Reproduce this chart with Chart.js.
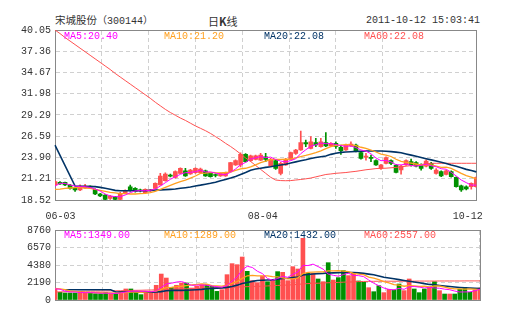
<!DOCTYPE html>
<html>
<head>
<meta charset="utf-8">
<script src="https://cdn.jsdelivr.net/npm/chart.js@4.4.1/dist/chart.umd.min.js"></script>
<style>
body { margin: 0; background: #fff; width: 505px; height: 330px; position: relative; overflow: hidden; }
canvas { position: absolute; left: 0; }
.t { position: absolute; font: 10px "Liberation Mono", "Noto Sans CJK SC", monospace; line-height: 12px; color: #333; white-space: pre; }
</style>
</head>
<body>
<div class="t" style="left:55px;top:15px"><span style="font-size:10.5px">宋城股份</span>（300144）</div>
<div class="t" style="left:208px;top:15px;font-size:11px;font-family:'Noto Sans CJK SC'">日<b>K</b>线</div>
<div class="t" style="right:25px;top:15px">2011-10-12 15:03:41</div>
<canvas id="kline" width="505" height="230" style="top:0"></canvas>
<canvas id="volume" width="505" height="95" style="top:220px"></canvas>
<script>
// trading days shown
var dates = ["06-03","06-07","06-08","06-09","06-10","06-13","06-14","06-15","06-16","06-17",
  "06-20","06-21","06-22","06-23","06-27","06-28","06-29","06-30","07-01","07-04",
  "07-05","07-06","07-07","07-08","07-11","07-12","07-13","07-14","07-15","07-18",
  "07-19","07-20","07-21","07-22","07-25","07-26","07-27","07-28","07-29","08-01",
  "08-02","08-03","08-04","08-05","08-08","08-09","08-10","08-11","08-12","08-15",
  "08-16","08-17","08-18","08-19","08-22","08-23","08-24","08-25","08-26","08-29",
  "08-30","08-31","09-01","09-02","09-05","09-06","09-07","09-08","09-09","09-13",
  "09-14","09-15","09-16","09-19","09-20","09-22","09-23","09-26","09-27","09-28",
  "09-29","09-30","10-10","10-11","10-12"];
var shownDates = [0, 42, 84];

var opens = [20.42,20.76,20.76,20.42,20.00,19.80,20.04,20.22,19.87,19.28,
  19.15,18.73,18.94,18.60,19.36,20.20,20.00,19.75,19.45,19.68,
  20.00,20.42,20.97,21.62,21.39,21.90,22.23,21.81,21.98,21.98,
  22.23,21.90,21.70,21.56,21.56,22.11,22.95,22.95,24.30,23.50,
  23.67,23.58,24.00,22.82,23.50,21.90,22.95,23.67,24.43,24.85,
  25.78,25.06,25.78,25.27,25.78,25.36,25.70,25.19,24.85,25.36,
  25.48,24.51,23.95,23.90,23.50,22.53,23.16,23.50,22.95,22.32,
  22.95,23.37,23.25,22.95,22.82,23.16,21.90,22.11,21.77,22.11,
  21.39,20.33,20.20,20.20,20.20];
var closes = [20.84,20.55,20.42,20.00,19.80,20.29,20.29,20.15,19.28,19.03,
  18.60,19.03,18.60,19.36,19.70,19.70,19.57,19.68,19.87,19.75,
  20.63,21.56,21.81,21.55,22.11,22.53,21.56,22.32,22.53,22.45,
  21.56,21.47,21.62,21.90,21.98,23.25,23.50,24.30,23.37,24.10,
  24.10,24.22,23.67,23.67,22.53,23.16,23.67,24.51,24.85,25.78,
  25.61,25.90,25.48,25.90,25.36,25.70,25.30,24.77,25.48,25.61,
  24.64,23.80,24.00,23.80,22.95,22.95,23.88,23.16,22.02,22.82,
  23.50,22.95,22.82,22.53,23.46,22.53,22.32,21.56,22.23,21.47,
  20.20,19.79,19.91,20.63,21.35];
var highs = [20.95,20.85,20.80,20.50,20.10,20.45,20.50,20.30,19.95,19.35,
  19.20,19.10,19.00,19.50,19.80,20.40,20.10,19.90,19.95,19.85,
  20.70,21.90,21.95,21.80,22.20,22.60,22.53,22.40,22.60,22.55,
  22.30,21.95,21.85,21.95,22.05,23.30,23.60,24.50,24.40,24.20,
  24.20,24.43,24.43,23.80,23.60,23.30,23.80,24.60,24.95,27.26,
  26.10,26.54,26.33,26.33,27.05,25.80,25.90,25.48,25.60,25.90,
  25.60,24.60,24.43,24.22,23.60,23.05,24.00,23.60,23.05,22.90,
  23.60,23.70,23.40,23.10,23.60,23.30,22.50,22.20,22.30,22.20,
  21.47,20.40,20.30,20.70,21.45];
var lows = [20.35,20.50,20.35,19.90,19.60,19.70,20.00,20.05,19.20,18.95,
  18.52,18.60,18.52,18.52,19.30,19.65,19.50,19.55,19.40,19.60,
  19.95,20.40,20.90,21.45,21.30,21.85,21.50,21.75,21.90,21.90,
  21.50,21.40,21.45,21.50,21.50,22.05,22.90,22.70,23.30,23.40,
  23.60,23.50,23.37,22.75,22.40,21.70,22.90,23.60,24.30,24.80,
  25.27,25.00,25.27,25.20,25.27,25.30,25.06,24.30,24.80,25.30,
  24.60,23.70,23.58,23.37,22.90,22.40,23.10,23.00,21.95,21.80,
  22.90,22.82,22.70,22.30,22.70,22.40,21.80,21.47,21.70,21.40,
  20.15,19.60,19.80,19.90,20.10];
var volumes = [1380,960,880,880,880,1080,880,880,790,790,
  960,790,790,1080,1380,1380,960,670,1080,1080,
  1840,3250,2750,1590,1840,2130,2130,1500,1710,1920,
  1920,1710,1080,1290,3170,4550,4420,5380,3590,2420,
  2170,3000,2290,2500,3550,3460,2420,4170,3880,7720,
  3340,3340,2630,2290,4670,2500,2800,3670,3050,3340,
  2380,2210,1540,1040,1790,920,1335,1250,2000,1170,
  2630,1380,920,1380,1585,2290,1170,750,750,750,
  1350,1585,960,1250,1500];

// moving averages as drawn on the chart
var ma5 = [20.29,20.63,20.63,20.42,20.29,20.21,20.21,20.12,19.91,19.66,
  19.28,19.03,18.94,18.94,19.15,19.45,19.66,19.70,19.70,19.74,
  19.91,20.29,20.71,21.14,21.47,21.77,21.98,22.02,22.11,22.28,
  22.08,22.07,21.93,21.80,21.71,22.04,22.45,22.99,23.28,23.70,
  23.87,24.02,23.89,23.95,23.64,23.45,23.34,23.51,23.74,24.39,
  24.88,25.33,25.52,25.73,25.65,25.67,25.55,25.41,25.32,25.37,
  25.16,24.86,24.71,24.37,23.84,23.50,23.52,23.35,22.99,22.97,
  23.08,22.89,22.82,22.92,23.05,22.86,22.73,22.48,22.42,22.02,
  21.56,21.05,20.72,20.40,20.40];
var ma10 = [19.87,19.91,20.00,20.04,20.08,20.08,20.04,20.00,19.87,19.74,
  19.62,19.49,19.41,19.32,19.32,19.28,19.28,19.32,19.36,19.45,
  19.62,19.87,20.12,20.38,20.63,20.84,21.05,21.30,21.56,21.88,
  21.93,22.03,21.98,21.96,22.00,22.06,22.26,22.46,22.54,22.71,
  22.96,23.24,23.44,23.62,23.67,23.66,23.68,23.70,23.85,24.02,
  24.17,24.34,24.52,24.74,25.02,25.28,25.44,25.47,25.53,25.51,
  25.42,25.20,25.06,24.85,24.60,24.33,24.19,24.03,23.68,23.40,
  23.29,23.20,23.08,22.95,23.01,22.97,22.81,22.65,22.67,22.53,
  22.21,21.89,21.60,21.41,21.20];
var ma20 = [25.48,null,null,null,20.29,20.25,20.25,20.21,20.21,20.12,
  20.00,19.87,19.74,19.70,19.70,19.70,19.70,19.70,19.70,19.74,
  19.79,19.79,19.83,19.87,19.91,20.00,20.08,20.17,20.30,20.40,
  20.52,20.63,20.78,20.95,21.12,21.30,21.50,21.75,22.00,22.30,
  22.45,22.55,22.65,22.74,22.85,22.95,23.05,23.20,23.35,23.50,
  23.62,23.78,23.90,24.00,24.10,24.30,24.45,24.55,24.60,24.64,
  24.68,24.70,24.72,24.72,24.72,24.72,24.70,24.65,24.58,24.50,
  24.35,24.20,24.05,23.90,23.75,23.60,23.45,23.30,23.15,22.95,
  22.80,22.60,22.40,22.25,22.08];
var ma60 = [40.05,39.60,39.10,38.65,38.20,37.75,37.30,36.85,36.40,35.95,
  35.50,35.05,34.55,34.10,33.65,33.20,32.75,32.30,31.85,31.40,
  30.90,30.45,30.00,29.60,29.25,28.90,28.60,28.25,27.90,27.60,
  27.30,26.95,26.55,26.15,25.70,25.30,24.85,24.35,23.85,23.40,
  22.90,22.40,21.90,21.40,21.05,20.98,20.96,20.98,21.05,21.12,
  21.20,21.30,21.45,21.60,21.75,21.82,21.90,21.95,22.00,22.08,
  22.15,22.25,22.35,22.42,22.50,22.53,22.55,22.60,22.65,22.72,
  22.80,22.88,22.95,23.02,23.10,23.17,23.17,23.17,23.17,23.17,
  23.17,23.17,23.17,23.17,23.17];
var vma5 = [1400,1350,1100,1000,1000,940,920,920,900,850,
  860,840,820,880,1000,1090,1120,1090,1090,1030,
  1130,1580,2000,2100,2250,2310,2100,1840,1860,1880,
  1840,1750,1670,1600,1830,2360,2900,3760,4220,4070,
  3600,3300,2690,2480,2700,2960,2840,3220,3500,4330,
  4310,4490,4180,3860,3250,3090,2980,3190,3340,3070,
  3050,2930,2500,2100,1790,1500,1330,1270,1460,1330,
  1670,1680,1620,1500,1580,1510,1470,1360,1290,1120,
  1000,1010,1020,1150,1349];
var vma10 = [1450,1400,1300,1150,1080,1000,960,930,920,920,
  900,880,870,890,930,980,990,970,990,1040,
  1120,1340,1540,1590,1670,1720,1800,1880,1940,2020,
  1970,1800,1760,1730,1860,2080,2310,2700,3030,3080,
  3010,3030,3020,2930,2890,2780,2640,2640,2770,3310,
  3450,3490,3530,3520,3640,3640,3670,3620,3540,3340,
  3240,3170,2870,2750,2550,2300,2150,1930,1850,1720,
  1790,1750,1690,1730,1630,1760,1750,1620,1470,1400,
  1390,1370,1380,1360,1289];
var vma20 = [null,null,1290,1290,1290,1290,1290,1290,1290,1290,
  1290,1290,1000,1000,1000,1000,1000,990,990,990,
  1000,1050,1150,1200,1200,1200,1220,1250,1290,1330,
  1400,1450,1480,1500,1580,1700,1860,2070,2200,2330,
  2450,2480,2500,2520,2600,2700,2720,2800,2880,3140,
  3200,3250,3300,3330,3380,3400,3420,3440,3450,3440,
  3400,3330,3240,3150,3000,2850,2750,2650,2550,2450,
  2350,2250,2150,2050,1950,1900,1820,1750,1680,1620,
  1570,1530,1500,1460,1432];
var vma60 = [1000,1020,1030,1050,1060,1080,1090,1100,1110,1120,
  1130,1140,1150,1160,1180,1200,1210,1220,1240,1250,
  1270,1300,1330,1350,1370,1390,1410,1420,1440,1460,
  1480,1500,1510,1520,1550,1580,1610,1650,1670,1690,
  1710,1730,1760,1790,1820,1850,1870,1910,1950,2020,
  2050,2080,2100,2120,2160,2180,2200,2230,2260,2280,
  2300,2320,2330,2340,2350,2350,2350,2350,2350,2360,
  2360,2360,2370,2370,2370,2370,2380,2380,2380,2380,
  2380,2390,2390,2390,2390];

var priceTicks = [18.52, 21.21, 23.90, 26.59, 29.29, 31.98, 34.67, 37.36, 40.05];
var volTicks = [0, 2190, 4380, 6570, 8760];
var maNames = ["MA5", "MA10", "MA20", "MA60"];
var priceLegend = ["20.40", "21.20", "22.08", "22.08"];
var volLegend = ["1349.00", "1289.00", "1432.00", "2557.00"];

var RED = "#ff5050", GREEN = "#009100", FRAME = "#888", GRID = "#d0d0d0";
var maColors = ["#ff00ff", "#ffa020", "#003366", "#ff5050"];
var maWidths = [1, 1.3, 1.6, 1];

// legend texts inside the two panels
maNames.forEach(function (n, k) {
    [[31, priceLegend], [230, volLegend]].forEach(function (row) {
        var d = document.createElement("div");
        d.className = "t";
        d.style.left = (64 + 100 * k) + "px";
        d.style.top = row[0] + "px";
        d.style.color = maColors[k];
        d.textContent = n + ":" + row[1][k];
        document.body.appendChild(d);
    });
});

Chart.defaults.font.family = "'Liberation Mono', monospace";
Chart.defaults.font.size = 10;
Chart.defaults.color = "#333";

var candleColors = closes.map(function (c, i) { return c >= opens[i] ? RED : GREEN; });

function edgeless(n) {
    // hide grid lines that sit on the frame
    return function (ctx) { return (ctx.index === 0 || ctx.index === n - 1) ? "rgba(0,0,0,0)" : GRID; };
}

function maLine(data, k) {
    return {
        type: "line", label: maNames[k], data: data, xAxisID: "xl",
        borderColor: maColors[k], borderWidth: maWidths[k],
        pointRadius: 0, tension: 0, spanGaps: true, order: 0
    };
}

function frameScales(yMin, yMax, ticks, fmt) {
    return {
        xl: { type: "category", offset: false, display: false },
        xg: {
            type: "linear", position: "top", min: 0, max: 8,
            ticks: { display: false, stepSize: 1 },
            grid: { color: edgeless(9), drawTicks: false },
            border: { color: FRAME, dash: [4, 3] },
            afterFit: function (a) { a.height = 0; }
        },
        y: {
            type: "linear", position: "left", min: yMin, max: yMax,
            afterBuildTicks: function (a) { a.ticks = ticks.map(function (v) { return { value: v }; }); },
            ticks: { padding: 4, callback: fmt },
            grid: { color: edgeless(ticks.length), drawTicks: false },
            border: { color: FRAME, dash: [4, 3] },
            afterFit: function (a) { a.width = 55; }
        },
        yr: {
            type: "linear", position: "right", min: yMin, max: yMax,
            ticks: { display: false }, grid: { display: false },
            border: { color: FRAME },
            afterFit: function (a) { a.width = 25; }
        }
    };
}

var kScales = frameScales(18.52, 40.05, priceTicks, function (v) { return v.toFixed(2); });
kScales.x = {
    type: "category", offset: true,
    grid: { display: false, drawTicks: false },
    border: { color: FRAME },
    ticks: {
        autoSkip: false, maxRotation: 0, padding: 10,
        callback: function (v, i) {
            var at = shownDates.indexOf(i);
            if (at < 0) return "";
            // nudge first/last labels inside the frame like the original
            return [" " + dates[i], dates[i] + " ", dates[i] + "  "][at];
        }
    },
    afterFit: function (a) { a.height = 30; }
};

new Chart(document.getElementById("kline"), {
    type: "bar",
    data: {
        labels: dates,
        datasets: [
            maLine(ma5, 0), maLine(ma10, 1), maLine(ma20, 2), maLine(ma60, 3),
            {
                label: "body", data: opens.map(function (o, i) { return [o, closes[i]]; }),
                backgroundColor: candleColors, barThickness: 4, minBarLength: 1,
                grouped: false, order: 1
            },
            {
                label: "wick", data: lows.map(function (l, i) { return [l, highs[i]]; }),
                backgroundColor: candleColors, barThickness: 1,
                grouped: false, order: 2
            }
        ]
    },
    options: {
        responsive: false, animation: false, events: [],
        layout: { padding: { top: 30, left: 0, right: 0, bottom: 0 } },
        plugins: { legend: { display: false }, tooltip: { enabled: false } },
        scales: kScales
    }
});

var vScales = frameScales(0, 8760, volTicks, function (v) { return String(v); });
vScales.x = {
    type: "category", offset: true,
    grid: { display: false, drawTicks: false },
    border: { color: FRAME },
    ticks: { display: false },
    afterFit: function (a) { a.height = 0; }
};

new Chart(document.getElementById("volume"), {
    type: "bar",
    data: {
        labels: dates,
        datasets: [
            maLine(vma5, 0), maLine(vma10, 1), maLine(vma20, 2), maLine(vma60, 3),
            {
                label: "volume", data: volumes,
                backgroundColor: candleColors, barThickness: 4, order: 1
            }
        ]
    },
    options: {
        responsive: false, animation: false, events: [],
        layout: { padding: { top: 10, left: 0, right: 0, bottom: 15 } },
        plugins: { legend: { display: false }, tooltip: { enabled: false } },
        scales: vScales
    }
});
</script>
</body>
</html>
